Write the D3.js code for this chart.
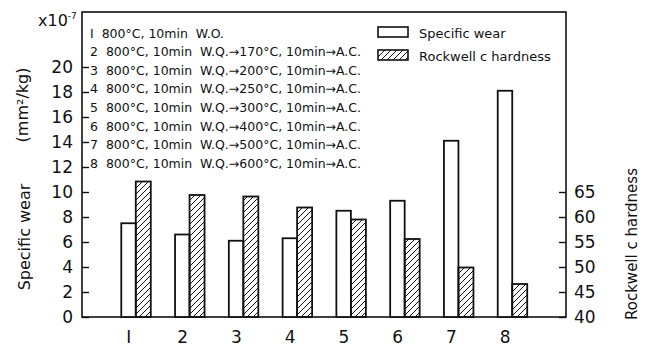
<!DOCTYPE html>
<html>
<head>
<meta charset="utf-8">
<script src="https://cdn.jsdelivr.net/npm/d3@7"></script>
<style>
  body { margin: 0; background: #fff; }
  svg { font-family: "DejaVu Sans", sans-serif; }
</style>
</head>
<body>
<div id="chart"></div>
<script>
const categories = ['1', '2', '3', '4', '5', '6', '7', '8'];
const specificWear = [7.5, 6.6, 6.1, 6.3, 8.5, 9.3, 14.1, 18.1];
const hardness = [67.1, 64.4, 64.1, 61.9, 59.5, 55.6, 49.9, 46.6];
const wearTicks = [0, 2, 4, 6, 8, 10, 12, 14, 16, 18, 20];
const hardTicks = [40, 45, 50, 55, 60, 65];
const conditions = [
  'I  800°C, 10min  W.O.',
  '2  800°C, 10min  W.Q.→170°C, 10min→A.C.',
  '3  800°C, 10min  W.Q.→200°C, 10min→A.C.',
  '4  800°C, 10min  W.Q.→250°C, 10min→A.C.',
  '5  800°C, 10min  W.Q.→300°C, 10min→A.C.',
  '6  800°C, 10min  W.Q.→400°C, 10min→A.C.',
  '7  800°C, 10min  W.Q.→500°C, 10min→A.C.',
  '8  800°C, 10min  W.Q.→600°C, 10min→A.C.'
];
const legendLabels = ['Specific wear', 'Rockwell c hardness'];

const width = 652, height = 350;
const plotL = 82, plotR = 566, plotT = 12, plotB = 317;

const svg = d3.select('#chart').append('svg')
  .attr('width', width).attr('height', height);

const defs = svg.append('defs');
defs.append('pattern')
  .attr('id', 'hatch')
  .attr('patternUnits', 'userSpaceOnUse')
  .attr('width', 6).attr('height', 6)
  .append('path')
  .attr('d', 'M-1,7 L7,-1 M-4,4 L4,-4 M2,10 L10,2')
  .attr('stroke', '#111').attr('stroke-width', 1);

const x = d3.scaleBand().domain(categories).range([plotL, plotR]).paddingOuter(0.5).paddingInner(0);
const yWear = d3.scaleLinear().domain([0, 24.4]).range([plotB, plotT]);
const yHard = d3.scaleLinear().domain([40, 40 + 24.4 * 2.5]).range([plotB, plotT]);
const barW = 14.5;

// frame
svg.append('rect')
  .attr('x', plotL).attr('y', plotT)
  .attr('width', plotR - plotL).attr('height', plotB - plotT)
  .attr('fill', 'none').attr('stroke', '#111').attr('stroke-width', 1.6);

// left axis (ticks inside)
const leftAxis = svg.append('g')
  .attr('transform', `translate(${plotL},0)`)
  .call(d3.axisRight(yWear).tickValues(wearTicks).tickSize(7).tickFormat(''));
leftAxis.select('.domain').remove();
leftAxis.selectAll('line').attr('stroke', '#111').attr('stroke-width', 1.4);
svg.append('g').selectAll('text')
  .data(wearTicks).enter().append('text')
  .attr('x', plotL - 9).attr('y', d => yWear(d))
  .attr('dy', '0.36em').attr('text-anchor', 'end')
  .attr('font-size', 17).attr('fill', '#111')
  .text(d => d);

// right axis (ticks inside)
const rightAxis = svg.append('g')
  .attr('transform', `translate(${plotR},0)`)
  .call(d3.axisLeft(yHard).tickValues(hardTicks).tickSize(7).tickFormat(''));
rightAxis.select('.domain').remove();
rightAxis.selectAll('line').attr('stroke', '#111').attr('stroke-width', 1.4);
svg.append('g').selectAll('text')
  .data(hardTicks).enter().append('text')
  .attr('x', plotR + 8).attr('y', d => yHard(d))
  .attr('dy', '0.36em').attr('text-anchor', 'start')
  .attr('font-size', 17).attr('fill', '#111')
  .text(d => d);

// bars
const groups = svg.append('g').selectAll('g')
  .data(categories).enter().append('g');

groups.append('rect')
  .attr('x', d => x(d) + x.bandwidth() / 2 - barW)
  .attr('y', (d, i) => yWear(specificWear[i]))
  .attr('width', barW)
  .attr('height', (d, i) => plotB - yWear(specificWear[i]))
  .attr('fill', '#fff').attr('stroke', '#111').attr('stroke-width', 1.8);

groups.append('rect')
  .attr('x', d => x(d) + x.bandwidth() / 2)
  .attr('y', (d, i) => yHard(hardness[i]))
  .attr('width', barW + 0.5)
  .attr('height', (d, i) => plotB - yHard(hardness[i]))
  .attr('fill', 'url(#hatch)').attr('stroke', '#111').attr('stroke-width', 1.8);

// category labels
svg.append('g').selectAll('text')
  .data(categories).enter().append('text')
  .attr('x', d => x(d) + x.bandwidth() / 2 - 7)
  .attr('y', 337).attr('dy', '0.36em')
  .attr('text-anchor', 'middle')
  .attr('font-size', 17).attr('fill', '#111')
  .text(d => d === '1' ? 'I' : d);

// condition notes
svg.append('g').selectAll('text')
  .data(conditions).enter().append('text')
  .attr('x', 90).attr('y', (d, i) => 33 + i * 18.6)
  .attr('dy', '0.36em')
  .attr('font-size', 12.5).attr('fill', '#111')
  .style('white-space', 'pre')
  .text(d => d);

// legend
const legend = svg.append('g').attr('transform', 'translate(378,27)');
legend.selectAll('rect')
  .data(legendLabels).enter().append('rect')
  .attr('x', 0).attr('y', (d, i) => i * 23)
  .attr('width', 30).attr('height', 10)
  .attr('fill', (d, i) => i === 0 ? '#fff' : 'url(#hatch)')
  .attr('stroke', '#111').attr('stroke-width', 1.6);
legend.selectAll('text')
  .data(legendLabels).enter().append('text')
  .attr('x', 41).attr('y', (d, i) => i * 23 + 6)
  .attr('dy', '0.36em')
  .attr('font-size', 13).attr('fill', '#111')
  .text(d => d);

// axis titles
svg.append('text')
  .attr('transform', 'translate(24,237) rotate(-90)')
  .attr('text-anchor', 'middle').attr('dy', '0.36em')
  .attr('font-size', 16).attr('fill', '#111')
  .text('Specific wear');
svg.append('text')
  .attr('transform', 'translate(22,105) rotate(-90)')
  .attr('text-anchor', 'middle').attr('dy', '0.36em')
  .attr('font-size', 16).attr('fill', '#111')
  .text('(mm²/kg)');
svg.append('text')
  .attr('transform', 'translate(632,244) rotate(-90)')
  .attr('text-anchor', 'middle').attr('dy', '0.36em')
  .attr('font-size', 15).attr('fill', '#111')
  .text('Rockwell c hardness');

const mult = svg.append('text')
  .attr('x', 38).attr('y', 20).attr('dy', '0.36em')
  .attr('font-size', 16).attr('fill', '#111')
  .text('x10');
mult.append('tspan').attr('dy', '-0.7em').attr('font-size', 9).text('-7');
</script>
</body>
</html>
